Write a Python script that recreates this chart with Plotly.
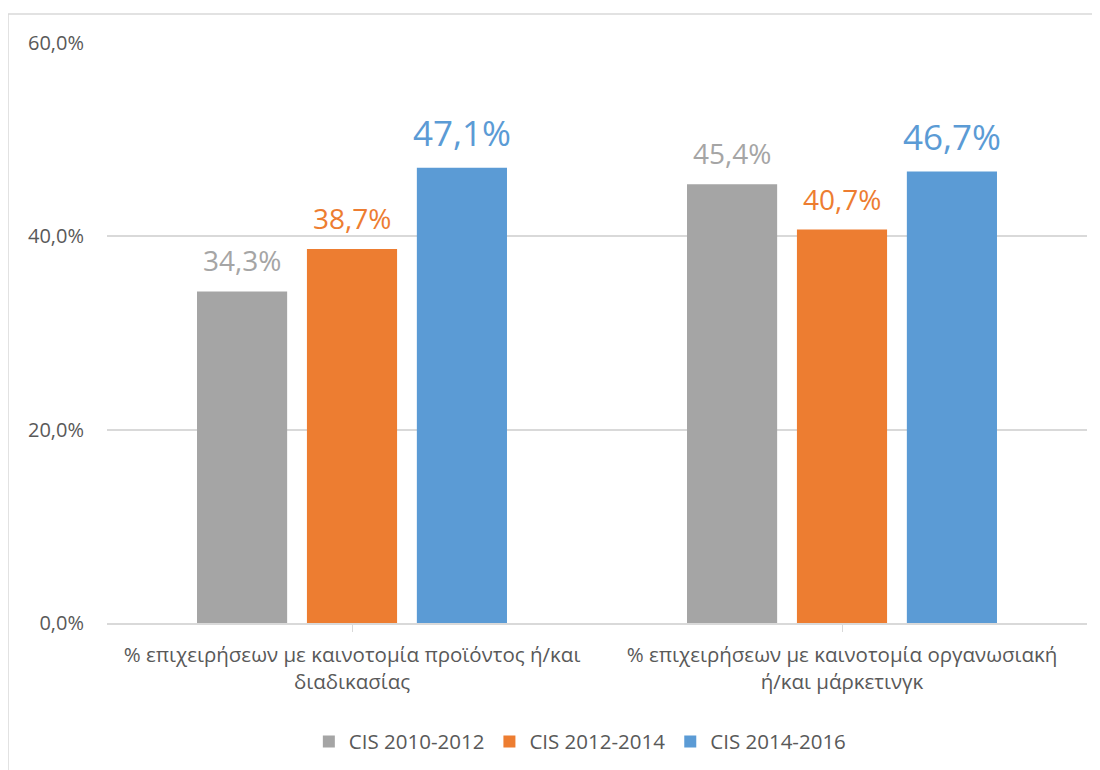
import plotly.graph_objects as go

categories = [
    "% επιχειρήσεων με καινοτομία προϊόντος ή/και<br>διαδικασίας",
    "% επιχειρήσεων με καινοτομία οργανωσιακή<br>ή/και μάρκετινγκ",
]
series_names = ["CIS 2010-2012", "CIS 2012-2014", "CIS 2014-2016"]
values_2010 = [0.343, 0.454]
values_2012 = [0.387, 0.407]
values_2014 = [0.471, 0.467]
colors = ["#A5A5A5", "#ED7D31", "#5B9BD5"]
label_sizes = [28, 28, 35]
y_ticks = [0, 0.2, 0.4, 0.6]

FONT = "Open Sans"
TEXT = "#595959"
BARGAP = 0.327
BARGROUPGAP = 0.18

all_values = [values_2010, values_2012, values_2014]

fig = go.Figure()
for name, vals, col in zip(series_names, all_values, colors):
    fig.add_trace(go.Bar(x=list(range(len(categories))), y=vals, name=name,
                         marker=dict(color=col, line=dict(width=0))))

slot = (1 - BARGAP) / len(series_names)
for i, (vals, col, sz) in enumerate(zip(all_values, colors, label_sizes)):
    off = (i - (len(series_names) - 1) / 2) * slot
    for j, v in enumerate(vals):
        fig.add_annotation(x=j + off, y=v, xref="x", yref="y",
                           text=f"{v*100:.1f}".replace(".", ",") + "%",
                           showarrow=False, yanchor="bottom", yshift=10,
                           font=dict(family=FONT, size=sz, color=col))

# Figure is placed at an 8px page offset; plot area spans 99..1079 x 35..615 in figure px
fig.add_shape(type="rect", xref="paper", yref="paper",
              x0=-99 / 980, x1=1.2, y0=-0.5, y1=(615 - 6) / 580,
              line=dict(color="#D9D9D9", width=1.5), fillcolor="rgba(0,0,0,0)", layer="below")

fig.update_layout(
    width=1092, height=762,
    margin=dict(l=99, r=13, t=35, b=147, autoexpand=False),
    paper_bgcolor="white", plot_bgcolor="white",
    separators=",.",
    barmode="group", bargap=BARGAP, bargroupgap=BARGROUPGAP,
    font=dict(family=FONT, color=TEXT),
    showlegend=True,
    legend=dict(orientation="h", x=0.483, xanchor="center", y=-0.17, yanchor="top",
                font=dict(family=FONT, size=20.5, color=TEXT), traceorder="normal",
                itemwidth=30),
    xaxis=dict(tickmode="array", tickvals=list(range(len(categories))), ticktext=categories,
               range=[-0.5, 1.5], showline=True, linecolor="#D9D9D9", linewidth=1.5,
               ticks="outside", tickson="boundaries", ticklen=7, tickcolor="#D9D9D9",
               ticklabelstandoff=6,
               tickfont=dict(family=FONT, size=20.5, color=TEXT), showgrid=False),
    yaxis=dict(range=[0, 0.6], tickvals=y_ticks, tickformat=".1%", showgrid=True,
               gridcolor="#D9D9D9", gridwidth=1.5, zeroline=False, showline=False,
               ticks="", ticklabelstandoff=22,
               tickfont=dict(family=FONT, size=20, color=TEXT)),
)

fig.write_html("out.html")
